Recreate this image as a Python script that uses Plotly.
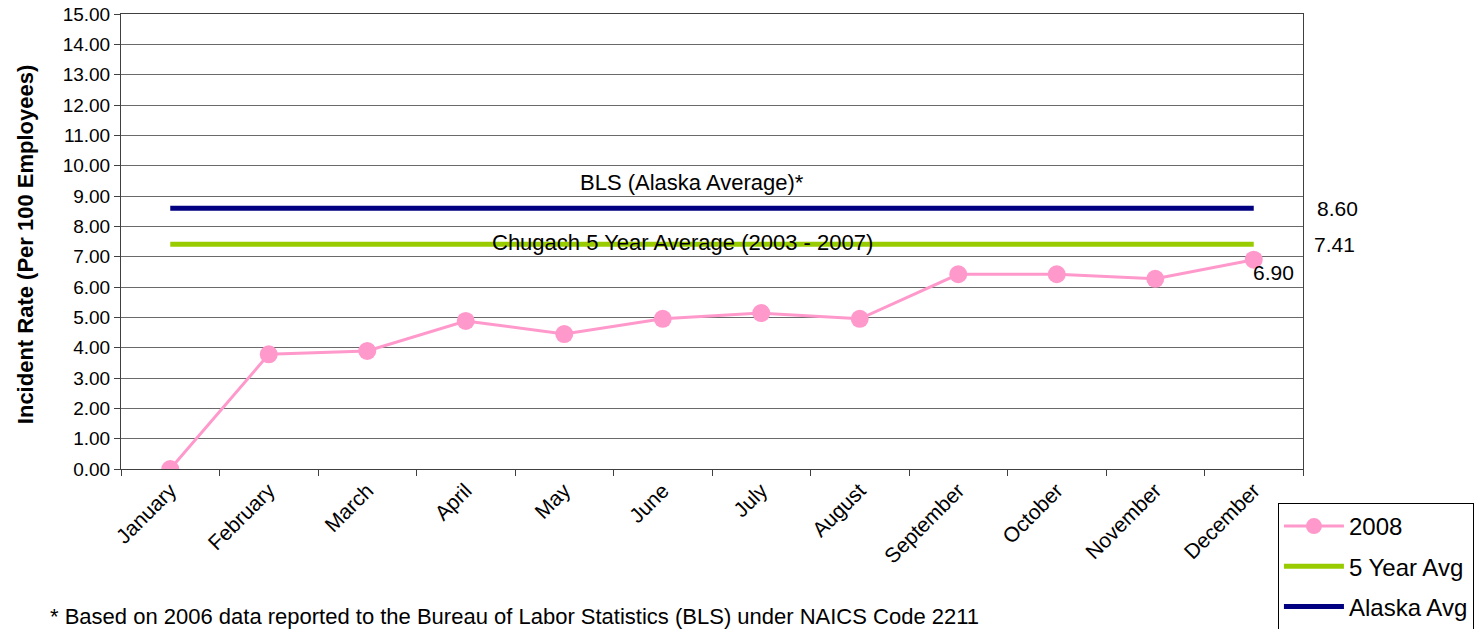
import plotly.graph_objects as go

months = ["January", "February", "March", "April", "May", "June", "July",
          "August", "September", "October", "November", "December"]
rate_2008 = [0.00, 3.78, 3.89, 4.88, 4.45, 4.95, 5.14, 4.95, 6.42, 6.42, 6.27, 6.90]
five_year_avg = 7.41
alaska_avg = 8.60
y_ticks = [i for i in range(0, 16)]
y_tick_labels = [f"{v:.2f}" for v in y_ticks]

FONT = "Liberation Sans, Arial, sans-serif"

fig = go.Figure()
fig.add_trace(go.Scatter(
    x=months, y=rate_2008, name="2008", mode="lines+markers",
    line=dict(color="#FF99CC", width=3),
    marker=dict(color="#FF99CC", size=18),
    legendgroup="a",
))
fig.add_trace(go.Scatter(
    x=months, y=[five_year_avg] * len(months), name="5 Year Avg", mode="lines",
    line=dict(color="#99CC00", width=5),
    legendgroup="b",
))
fig.add_trace(go.Scatter(
    x=months, y=[alaska_avg] * len(months), name="Alaska Avg", mode="lines",
    line=dict(color="#000080", width=5),
    legendgroup="c",
))

annotations = [
    dict(text="BLS (Alaska Average)*", xref="paper", x=0.483, xanchor="center", yref="y", y=9.45,
         showarrow=False, font=dict(size=22, color="black")),
    dict(text="Chugach 5 Year Average (2003 - 2007)", xref="paper", x=0.475, xanchor="center",
         yref="y", y=7.47, showarrow=False, font=dict(size=22, color="black")),
    dict(text=f"{alaska_avg:.2f}", xref="paper", x=1.0296, xanchor="center", yref="y", y=alaska_avg,
         showarrow=False, font=dict(size=21, color="black")),
    dict(text=f"{five_year_avg:.2f}", xref="paper", x=1.027, xanchor="center", yref="y", y=five_year_avg,
         showarrow=False, font=dict(size=21, color="black")),
    dict(text=f"{rate_2008[-1]:.2f}", xref="x", x=months[-1], xanchor="center", yref="y", y=rate_2008[-1],
         xshift=20, yshift=-13, showarrow=False, font=dict(size=21, color="black")),
    dict(text="Incident Rate (Per 100 Employees)", xref="paper", x=-0.0812, xanchor="center",
         yref="paper", y=0.492, yanchor="middle",
         textangle=-90, showarrow=False, font=dict(size=22, color="black", weight="bold")),
    dict(text="* Based on 2006 data reported to the Bureau of Labor Statistics (BLS) under NAICS Code 2211",
         xref="paper", x=-0.0618, xanchor="left", yref="paper", y=-0.3245, yanchor="middle",
         showarrow=False, font=dict(size=22, color="black")),
]

fig.update_layout(
    width=1480, height=629,
    margin=dict(l=121, r=177, t=14, b=160, autoexpand=False),
    paper_bgcolor="white", plot_bgcolor="white",
    font=dict(family=FONT, color="black"),
    showlegend=True,
    legend=dict(
        x=0.9788, xanchor="left", y=-0.0747, yanchor="top",
        bordercolor="black", borderwidth=1, bgcolor="white",
        font=dict(size=24, color="black"),
        itemwidth=60, tracegroupgap=6,
    ),
    annotations=annotations,
)
fig.update_xaxes(
    type="category", range=[-0.5, 11.5],
    tickangle=-45, tickfont=dict(size=21, color="black"),
    showgrid=False, showline=True, linecolor="#404040", linewidth=1, mirror=True,
    ticks="outside", tickson="boundaries", ticklen=6, tickcolor="#404040",
)
fig.update_yaxes(
    range=[0, 15], tickvals=y_ticks, ticktext=y_tick_labels,
    tickfont=dict(size=19, color="black"),
    showgrid=True, gridcolor="#6a6a6a", gridwidth=1,
    showline=True, linecolor="#404040", linewidth=1, mirror=True,
    ticks="outside", ticklen=6, tickcolor="#404040",
    zeroline=False,
)

fig.write_html("out.html", config={"displayModeBar": False},
               post_script="document.body.style.margin='0';")
